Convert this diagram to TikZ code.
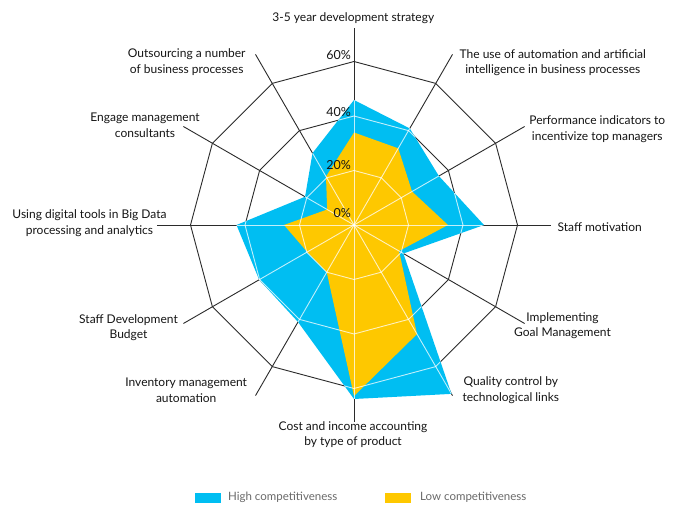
\documentclass[tikz,border=0pt]{standalone}
\usepackage{fontspec}
\setmainfont{Lato}
\definecolor{hiblue}{HTML}{00BEF2}
\definecolor{loyel}{HTML}{FEC800}
\definecolor{darkline}{HTML}{2B2B2B}
\definecolor{labeltxt}{HTML}{151515}
\definecolor{legtxt}{HTML}{6A6A6A}
\newcommand\myradargrid{%
  \foreach \r in {54.5,109,163.5}{%
    \draw (0:\r) \foreach \k in {1,...,11}{ -- ({\k*30}:\r) } -- cycle;
  }%
  \foreach \k in {0,...,11}{\draw (0,0) -- ({\k*30}:197);}%
}
\newcommand\bluepoly{(90:125) -- (60:111.5) -- (30:98) -- (0:130) -- (-30:57) -- (-60:195) -- (-90:174) -- (-120:112) -- (-150:109.5) -- (180:117.5) -- (150:56.5) -- (120:83) -- cycle}
\newcommand\yelpoly{(90:92.5) -- (60:88.5) -- (30:67) -- (0:94) -- (-30:52) -- (-60:126) -- (-90:171) -- (-120:54.5) -- (-150:54) -- (180:70) -- (150:31) -- (120:56) -- cycle}
\begin{document}
\begin{tikzpicture}[x=1pt,y=1pt,
  axlabel/.style={align=center,inner sep=0pt,text=labeltxt,font=\fontsize{12}{15.5}\selectfont},
  pctlabel/.style={anchor=east,inner sep=0pt,text=labeltxt,font=\fontsize{12.5}{14}\selectfont},
  legtext/.style={anchor=west,inner sep=0pt,text=legtxt,font=\fontsize{11.5}{14}\selectfont},
  darkgrid/.style={draw=darkline,line width=0.9pt},
  whitegrid/.style={draw=white,draw opacity=0.75,line width=0.9pt}]
\useasboundingbox[fill=white] (0,0) rectangle (680,506);
\begin{scope}[shift={(354,281)}]
  \begin{scope}[darkgrid] \myradargrid \end{scope}
  \fill[hiblue] \bluepoly;
  \fill[loyel] \yelpoly;
  \begin{scope}
    \clip \bluepoly;
    \begin{scope}[whitegrid] \myradargrid \end{scope}
  \end{scope}
\end{scope}
% percentage labels
\node[pctlabel] (p60) at (351,451) {60\%};
\node[pctlabel] (p40) at (351,394.3) {40\%};
\node[pctlabel] (p20) at (351,341) {20\%};
\node[pctlabel] (p0) at (351,292.7) {0\%};
% axis labels
\node[axlabel] (l1) at (353.3,487.7) {3-5 year development strategy};
\node[axlabel] (l2) at (552.8,443.2) {The use of automation and artificial\\intelligence in business processes};
\node[axlabel] (l3) at (597.3,377) {Performance indicators to\\incentivize top managers};
\node[axlabel] (l4) at (599.7,279.3) {Staff motivation};
\node[axlabel] (l5) at (562.5,180.2) {Implementing\\Goal Management};
\node[axlabel] (l6) at (510.8,115.8) {Quality control by\\technological links};
\node[axlabel] (l7) at (353,71.3) {Cost and income accounting\\by type of product};
\node[axlabel] (l8) at (186.2,115.5) {Inventory management\\automation};
\node[axlabel] (l9) at (128.5,178.5) {Staff Development\\Budget};
\node[axlabel] (l10) at (89.5,282.7) {Using digital tools in Big Data\\processing and analytics};
\node[axlabel] (l11) at (145,380.7) {Engage management\\consultants};
\node[axlabel] (l12) at (186.7,444) {Outsourcing a number\\of business processes};
% legend
\fill[hiblue] (195,3.3) rectangle (220.7,13.3);
\node[legtext] (lg1) at (228,8.6) {High competitiveness};
\fill[loyel] (385,3.3) rectangle (411,13.3);
\node[legtext] (lg2) at (420,8.6) {Low competitiveness};
\end{tikzpicture}
\end{document}
